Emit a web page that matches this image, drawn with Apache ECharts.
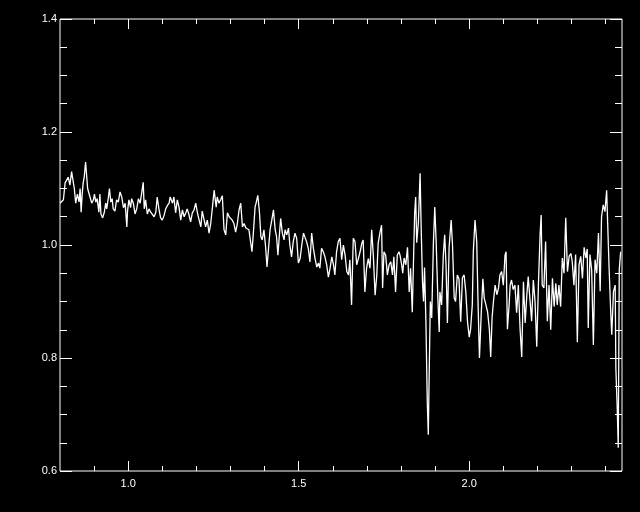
<!DOCTYPE html>
<html>
<head>
<meta charset="utf-8">
<script src="https://cdn.jsdelivr.net/npm/echarts@6/dist/echarts.min.js"></script>
<style>
html,body{margin:0;padding:0;background:#000;}
#chart{width:640px;height:512px;}
</style>
</head>
<body>
<div id="chart"></div>
<script>
// Wavelength (x) and flux (y)
const wavelength = [
0.800,0.810,0.815,0.824,0.829,0.834,0.839,0.842,0.846,0.851,0.856,0.859,0.862,0.865,0.868,0.871,0.875,0.878,0.881,0.885,0.888,0.893,0.898,0.901,0.905,0.909,0.914,0.917,0.920,0.925,0.930,0.934,0.937,0.942,0.945,0.949,0.953,0.956,0.961,0.966,0.971,0.976,0.981,0.986,0.991,0.996,0.998,1.002,1.007,1.010,1.015,1.020,1.025,1.030,1.035,1.039,1.044,1.047,1.051,1.056,1.061,1.066,1.071,1.076,1.081,1.085,1.090,1.095,1.100,1.105,1.110,1.115,1.120,
1.123,1.128,1.130,1.134,1.139,1.144,1.149,1.154,1.159,1.164,1.169,1.173,1.178,1.183,1.188,1.193,1.198,1.203,1.208,1.213,1.217,1.222,1.227,1.232,1.237,1.242,1.247,1.252,1.255,1.258,1.261,1.266,1.271,1.276,1.281,1.286,1.291,1.296,1.301,1.305,1.310,1.315,1.320,1.325,1.330,1.335,1.340,1.345,1.349,1.354,1.359,1.363,1.367,1.372,1.375,1.380,1.385,1.389,1.393,1.398,1.403,1.407,1.411,1.416,1.421,1.426,1.431,1.435,1.439,1.443,1.447,1.452,1.457,
1.460,1.465,1.470,1.474,1.479,1.484,1.489,1.494,1.499,1.504,1.509,1.514,1.518,1.523,1.528,1.533,1.538,1.543,1.548,1.553,1.558,1.562,1.567,1.572,1.577,1.582,1.587,1.592,1.597,1.602,1.606,1.611,1.616,1.621,1.626,1.631,1.636,1.641,1.646,1.650,1.655,1.660,1.665,1.670,1.675,1.680,1.685,1.689,1.694,1.699,1.704,1.709,1.714,1.719,1.724,1.729,1.733,1.738,1.743,1.746,1.750,1.755,1.760,1.765,1.770,1.775,1.779,1.784,1.789,1.794,
1.797,1.802,1.805,1.809,1.814,1.819,1.824,1.828,1.833,1.837,1.840,1.843,1.846,1.851,1.856,1.859,1.863,1.866,1.869,1.873,1.877,1.880,1.883,1.886,1.890,1.895,1.899,1.903,1.908,1.912,1.914,1.919,1.924,1.928,1.932,1.936,1.941,1.947,1.951,1.956,1.960,1.965,1.970,1.975,1.980,1.985,1.990,1.995,2.000,2.004,2.009,2.012,2.017,2.022,2.026,2.030,2.035,2.040,2.044,2.049,2.054,2.059,2.063,2.067,2.071,2.076,2.081,2.086,2.090,2.095,2.100,2.105,2.108,2.112,2.117,
2.120,2.124,2.129,2.134,2.139,2.144,2.149,2.154,2.159,2.164,2.169,2.173,2.178,2.183,2.188,2.193,2.198,2.203,2.208,2.211,2.214,2.219,2.224,2.229,2.234,2.239,2.244,2.249,2.254,2.258,2.263,2.268,2.273,2.278,2.283,2.288,2.293,2.298,2.302,2.307,2.312,2.317,2.322,2.327,2.332,2.337,2.342,2.346,2.349,2.354,2.359,2.364,2.369,2.374,2.379,2.384,2.388,2.393,2.398,2.403,2.406,2.410,2.415,2.418,2.423,2.428,2.430,2.434,2.437,2.440,2.444
];
const flux = [
1.074,1.080,1.110,1.120,1.106,1.130,1.133,1.100,1.074,1.090,1.076,1.100,1.058,1.090,1.110,1.120,1.147,1.150,1.100,1.098,1.085,1.074,1.080,1.090,1.076,1.082,1.058,1.090,1.055,1.048,1.058,1.074,1.064,1.085,1.100,1.076,1.082,1.064,1.060,1.080,1.076,1.094,1.085,1.066,1.074,1.032,1.060,1.080,1.066,1.082,1.074,1.055,1.064,1.082,1.074,1.090,1.111,1.064,1.080,1.055,1.064,1.058,1.060,1.050,1.058,1.085,1.064,1.048,1.044,1.052,1.064,1.070,1.074,
1.085,1.087,1.074,1.085,1.057,1.080,1.067,1.044,1.062,1.050,1.057,1.064,1.054,1.041,1.057,1.062,1.074,1.057,1.044,1.032,1.060,1.062,1.032,1.044,1.021,1.038,1.067,1.097,1.097,1.067,1.085,1.074,1.080,1.087,1.027,1.018,1.057,1.050,1.050,1.044,1.038,1.023,1.038,1.062,1.074,1.032,1.038,1.030,1.032,1.027,1.005,0.988,1.021,1.067,1.074,1.088,1.057,1.015,1.009,1.027,0.996,0.961,0.990,1.027,1.044,1.062,1.027,1.015,0.982,1.015,1.047,1.021,1.009,
1.027,1.018,1.030,1.000,0.979,1.006,1.021,1.012,0.968,0.976,1.000,1.021,1.021,1.006,0.994,0.970,1.021,0.994,0.976,0.961,0.968,0.959,0.994,0.988,0.979,0.965,0.943,0.959,0.979,0.965,0.947,0.988,1.006,1.012,0.974,1.000,0.982,0.953,0.947,0.974,0.894,1.012,1.006,0.965,0.976,0.988,1.003,1.009,0.917,0.959,0.976,0.959,1.027,0.979,0.911,0.947,1.003,1.021,1.035,0.924,0.988,0.982,0.947,0.965,0.970,0.947,0.979,0.917,0.982,0.988,
0.982,0.965,0.950,0.977,0.965,0.996,0.917,0.959,0.881,0.982,1.057,1.085,1.004,1.041,1.127,1.032,0.935,0.900,0.960,0.864,0.722,0.664,0.788,0.900,0.871,1.004,1.067,1.006,0.906,0.846,0.917,0.894,0.982,1.018,0.965,0.862,0.996,1.044,0.999,0.906,0.900,0.947,0.940,0.864,0.942,0.947,0.917,0.864,0.837,0.851,0.894,0.988,1.044,1.006,0.894,0.800,0.875,0.940,0.906,0.894,0.881,0.851,0.802,0.871,0.900,0.929,0.912,0.924,0.947,0.953,0.929,0.982,0.988,0.851,0.894,
0.929,0.938,0.921,0.929,0.880,0.929,0.853,0.802,0.935,0.862,0.912,0.944,0.941,0.865,0.938,0.900,0.820,0.932,1.021,1.053,0.929,0.924,1.006,0.865,0.929,0.850,0.941,0.891,0.932,0.894,0.929,0.891,0.977,0.950,1.048,0.953,0.980,0.985,0.971,0.929,0.983,0.828,0.965,0.980,0.941,0.996,0.977,0.993,0.853,0.983,0.956,0.823,0.974,0.950,1.021,0.918,1.050,1.071,1.059,1.097,1.038,0.962,0.880,0.841,0.918,0.929,0.782,0.711,0.641,0.956,0.988
];
const xMajorTicks = [1.0, 1.5, 2.0];
const xMinorTicks = [0.9, 1.1, 1.2, 1.3, 1.4, 1.6, 1.7, 1.8, 1.9, 2.1, 2.2, 2.3, 2.4];
const yMajorTicks = [0.6, 0.8, 1.0, 1.2, 1.4];
const yMinorTicks = [0.65, 0.7, 0.75, 0.85, 0.9, 0.95, 1.05, 1.1, 1.15, 1.25, 1.3, 1.35];

const X_MIN = 0.8, X_MAX = 2.448, Y_MIN = 0.6, Y_MAX = 1.4;
const WHITE = '#ffffff';
const labelFont = { color: WHITE, fontFamily: 'Liberation Sans, Arial, sans-serif', fontSize: 11 };

function xAxisDef(position, ticks, len, showLabel) {
  return {
    type: 'value', gridIndex: 0, position: position, min: X_MIN, max: X_MAX,
    axisLine: { show: false },
    splitLine: { show: false },
    axisTick: { show: true, inside: true, length: len, customValues: ticks, lineStyle: { color: WHITE, width: 1 } },
    axisLabel: Object.assign({ show: showLabel, customValues: ticks, margin: 7, formatter: v => v.toFixed(1) }, labelFont)
  };
}
function yAxisDef(position, ticks, len, showLabel) {
  return {
    type: 'value', gridIndex: 0, position: position, min: Y_MIN, max: Y_MAX,
    axisLine: { show: false },
    splitLine: { show: false },
    axisTick: { show: true, inside: true, length: len, customValues: ticks, lineStyle: { color: WHITE, width: 1 } },
    axisLabel: Object.assign({ show: showLabel, customValues: ticks, margin: 3, formatter: v => v.toFixed(1) }, labelFont)
  };
}

const chart = echarts.init(document.getElementById('chart'), null, { renderer: 'canvas' });
chart.setOption({
  backgroundColor: '#000',
  animation: false,
  grid: { left: 60, top: 19, right: 18, bottom: 41, show: true, borderColor: WHITE, borderWidth: 1, backgroundColor: 'transparent' },
  xAxis: [
    xAxisDef('bottom', xMajorTicks, 10, true),
    xAxisDef('bottom', xMinorTicks, 5, false),
    xAxisDef('top', xMajorTicks, 10, false),
    xAxisDef('top', xMinorTicks, 5, false)
  ],
  yAxis: [
    yAxisDef('left', yMajorTicks, 12, true),
    yAxisDef('left', yMinorTicks, 7, false),
    yAxisDef('right', yMajorTicks, 12, false),
    yAxisDef('right', yMinorTicks, 7, false)
  ],
  series: [{
    type: 'line',
    xAxisIndex: 0, yAxisIndex: 0,
    data: wavelength.map((w, i) => [w, flux[i]]),
    showSymbol: false,
    symbol: 'none',
    lineStyle: { color: WHITE, width: 1.3 },
    clip: true
  }]
});
</script>
</body>
</html>
